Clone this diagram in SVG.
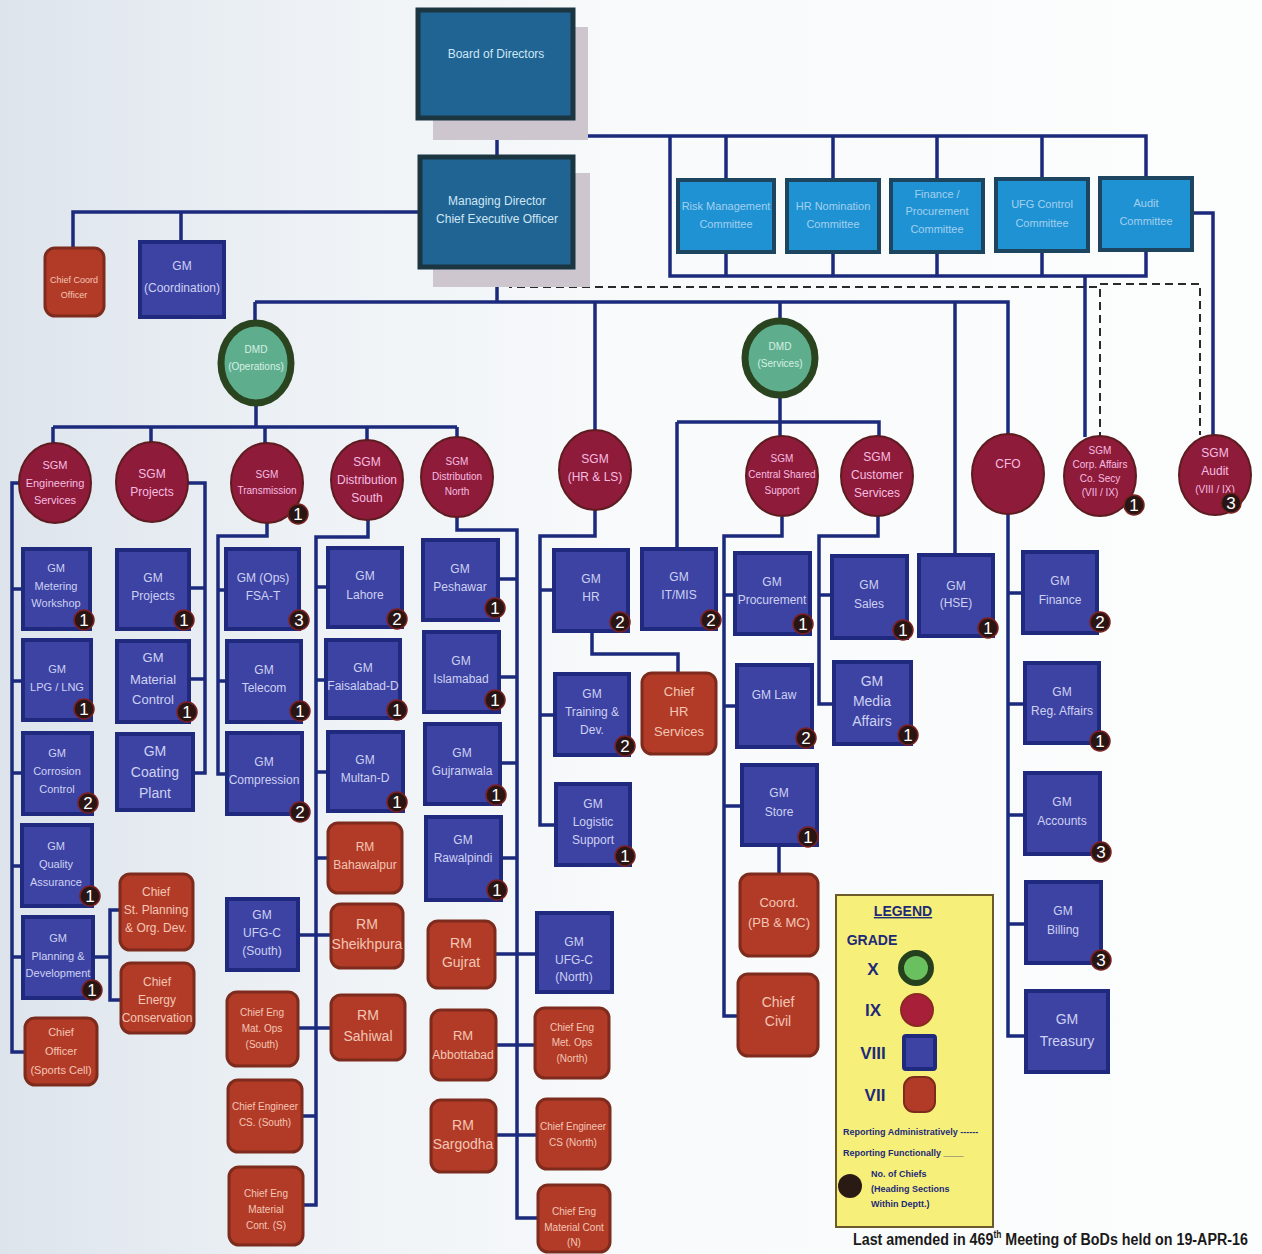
<svg xmlns="http://www.w3.org/2000/svg" width="1262" height="1254" viewBox="0 0 1262 1254">
<defs>
<linearGradient id="bg" x1="0" y1="0" x2="1" y2="0">
<stop offset="0" stop-color="#dde4ec"/><stop offset="0.25" stop-color="#eef2f6"/><stop offset="0.5" stop-color="#f8fafb"/><stop offset="1" stop-color="#fcfdfd"/>
</linearGradient>
<style>
.c{fill:none;stroke:#1b2a7c;stroke-width:3.5}
.d{fill:none;stroke:#2a2a2a;stroke-width:2;stroke-dasharray:8 5}
.top{fill:#1f6492;stroke:#1b3541;stroke-width:5}
.sh{fill:#cdc6cf}
.com{fill:#1f92d4;stroke:#1d4560;stroke-width:4}
.gm{fill:#3d43a3;stroke:#1f2a7e;stroke-width:4}
.rd{fill:#b23b28;stroke:#7d2b1c;stroke-width:3}
.sgm{fill:#8e1b3a;stroke:#5e1c20;stroke-width:2}
.dmd{fill:#5eae8e;stroke:#2b4420;stroke-width:7}
text{font-family:"Liberation Sans",Arial,sans-serif;text-anchor:middle}
.tt{fill:#cfe6f5;font-size:12px}
.ct{fill:#a3d0ee;font-size:11px}
.gt{fill:#cdd1f2;font-size:12px}
.rt{fill:#f3c6b4;font-size:12px}
.st{fill:#f7bde0;font-size:12px}
.dt{fill:#d8f0e4;font-size:10px}
.bc{fill:#2a1515;stroke:#7a2020;stroke-width:1.5}
.bt{fill:#ffffff;font-size:17px}
.lg{fill:#1e2a78;font-weight:bold}
.ft{fill:#1a1a1a;font-weight:bold;text-anchor:start}
</style>
</defs>
<rect x="0" y="0" width="1262" height="1254" fill="url(#bg)"/>

<g id="connectors">
<path class="c" d="M497,118 V157"/>
<path class="c" d="M497,136 H1146 V180"/>
<path class="c" d="M670,136 V276 H1146 V250"/>
<path class="c" d="M726,136 V180 M833,136 V180 M937,136 V180 M1042,136 V180"/>
<path class="c" d="M726,252 V276 M833,252 V276 M937,252 V276 M1042,252 V276"/>
<path class="c" d="M1192,213 H1213 V436"/>
<path class="c" d="M1085,276 V437"/>
<path class="c" d="M420,212 H73 V248 M181,212 V242"/>
<path class="c" d="M497,267 V302 M255,302 H1008 V434 M255,302 V322 M595,302 V430 M780,302 V320 M955,302 V555"/>
<path class="d" d="M510,268 V287 H1100 V436 M1100,284 H1200 V435"/>
<path class="c" d="M256,405 V427 M53,427 H457 M53,427 V443 M151,427 V442 M265,427 V445 M367,427 V440 M457,427 V437"/>
<path class="c" d="M780,397 V422 M677,422 H879 V436 M780,422 V436 M677,422 V549"/>
<path class="c" d="M20,483 H12 V1052 H25 M12,589 H23 M12,681 H23 M12,773 H23 M12,866 H22 M12,957 H23"/>
<path class="c" d="M188,483 H205 V773 H193 M189,588 H205 M189,679 H205"/>
<path class="c" d="M93,957 H110 M120,910 H110 V1000 H121"/>
<path class="c" d="M267,523 V536 H218 V774 H227 M218,590 H226 M218,681 H227"/>
<path class="c" d="M368,520 V537 H316 V1205 H303 M316,587 H328 M316,680 H326 M316,772 H328 M316,858 H328 M298,935 H331 M298,1028 H331 M316,1116 H302"/>
<path class="c" d="M457,517 V530 H517 V1218 H538 M498,579 H517 M499,677 H517 M500,763 H517 M501,858 H517 M495,954 H537 M496,1045 H535 M496,1135 H537"/>
<path class="c" d="M595,510 V536 H540 V825 H556 M540,590 H554 M540,715 H555 M592,631 V654 H678 V673"/>
<path class="c" d="M782,517 V536 H724 V1016 H738 M724,595 H735 M724,706 H737 M724,806 H742 M779,845 V874"/>
<path class="c" d="M878,516 V536 H819 V704 H834 M819,595 H832"/>
<path class="c" d="M1008,514 V1036 H1026 M1008,593 H1023 M1008,704 H1025 M1008,815 H1025 M1008,924 H1026"/>
</g>

<g id="bod"><rect class="sh" x="433" y="27" width="155" height="113"/><rect class="top" x="418" y="10" width="155" height="108"/><text class="tt" x="496" y="58">Board of Directors</text></g>
<g id="md"><rect class="sh" x="433" y="173" width="157" height="114"/><rect class="top" x="420" y="157" width="153" height="110"/><text class="tt"><tspan x="497" y="205">Managing Director</tspan><tspan x="497" y="223">Chief Executive  Officer</tspan></text></g>

<g id="com-risk"><rect class="com" x="678" y="180" width="96" height="72"/><text class="ct"><tspan x="726" y="210">Risk Management</tspan><tspan x="726" y="228">Committee</tspan></text></g>
<g id="com-hr"><rect class="com" x="787" y="180" width="92" height="72"/><text class="ct"><tspan x="833" y="210">HR  Nomination</tspan><tspan x="833" y="228">Committee</tspan></text></g>
<g id="com-fin"><rect class="com" x="891" y="180" width="92" height="72"/><text class="ct"><tspan x="937" y="198">Finance /</tspan><tspan x="937" y="215">Procurement</tspan><tspan x="937" y="233">Committee</tspan></text></g>
<g id="com-ufg"><rect class="com" x="996" y="179" width="92" height="72"/><text class="ct"><tspan x="1042" y="208">UFG Control</tspan><tspan x="1042" y="227">Committee</tspan></text></g>
<g id="com-audit"><rect class="com" x="1100" y="178" width="92" height="72"/><text class="ct"><tspan x="1146" y="207">Audit</tspan><tspan x="1146" y="225">Committee</tspan></text></g>

<g id="chief-coord"><rect class="rd" x="45" y="248" width="59" height="68" rx="10"/><text class="rt" style="font-size:9px"><tspan x="74" y="283">Chief Coord</tspan><tspan x="74" y="298">Officer</tspan></text></g>
<g id="gm-coord"><rect class="gm" x="140" y="242" width="84" height="75"/><text class="gt"><tspan x="182" y="270">GM</tspan><tspan x="182" y="292">(Coordination)</tspan></text></g>

<g id="dmd-ops"><ellipse class="dmd" cx="256" cy="363" rx="35" ry="40"/><text class="dt"><tspan x="256" y="353">DMD</tspan><tspan x="256" y="370">(Operations)</tspan></text></g>
<g id="dmd-svc"><ellipse class="dmd" cx="780" cy="358" rx="35" ry="37"/><text class="dt"><tspan x="780" y="350">DMD</tspan><tspan x="780" y="367">(Services)</tspan></text></g>

<g id="sgm-eng"><ellipse class="sgm" cx="55" cy="483" rx="36" ry="40"/><text class="st" style="font-size:11px"><tspan x="55" y="469">SGM</tspan><tspan x="55" y="487">Engineering</tspan><tspan x="55" y="504">Services</tspan></text></g>
<g id="sgm-proj"><ellipse class="sgm" cx="152" cy="482" rx="36" ry="40"/><text class="st"><tspan x="152" y="478">SGM</tspan><tspan x="152" y="496">Projects</tspan></text></g>
<g id="sgm-trans"><ellipse class="sgm" cx="267" cy="483" rx="36" ry="40"/><text class="st" style="font-size:10px"><tspan x="267" y="478">SGM</tspan><tspan x="267" y="494">Transmission</tspan></text><circle class="bc" cx="298" cy="514" r="10"/><text class="bt" x="298" y="520">1</text></g>
<g id="sgm-dsouth"><ellipse class="sgm" cx="367" cy="480" rx="36" ry="40"/><text class="st"><tspan x="367" y="466">SGM</tspan><tspan x="367" y="484">Distribution</tspan><tspan x="367" y="502">South</tspan></text></g>
<g id="sgm-dnorth"><ellipse class="sgm" cx="457" cy="477" rx="36" ry="40"/><text class="st" style="font-size:10px"><tspan x="457" y="465">SGM</tspan><tspan x="457" y="480">Distribution</tspan><tspan x="457" y="495">North</tspan></text></g>
<g id="sgm-hr"><ellipse class="sgm" cx="595" cy="470" rx="36" ry="40"/><text class="st"><tspan x="595" y="463">SGM</tspan><tspan x="595" y="481">(HR &amp; LS)</tspan></text></g>
<g id="sgm-css"><ellipse class="sgm" cx="782" cy="476" rx="36" ry="40"/><text class="st" style="font-size:10px"><tspan x="782" y="462">SGM</tspan><tspan x="782" y="478">Central Shared</tspan><tspan x="782" y="494">Support</tspan></text></g>
<g id="sgm-cs"><ellipse class="sgm" cx="877" cy="476" rx="36" ry="40"/><text class="st"><tspan x="877" y="461">SGM</tspan><tspan x="877" y="479">Customer</tspan><tspan x="877" y="497">Services</tspan></text></g>
<g id="cfo"><ellipse class="sgm" cx="1008" cy="474" rx="36" ry="40"/><text class="st" x="1008" y="468">CFO</text></g>
<g id="sgm-corp"><ellipse class="sgm" cx="1100" cy="476" rx="36" ry="40"/><text class="st" style="font-size:10px"><tspan x="1100" y="454">SGM</tspan><tspan x="1100" y="468">Corp. Affairs</tspan><tspan x="1100" y="482">Co. Secy</tspan><tspan x="1100" y="496">(VII / IX)</tspan></text><circle class="bc" cx="1134" cy="505" r="10"/><text class="bt" x="1134" y="511">1</text></g>
<g id="sgm-audit"><ellipse class="sgm" cx="1215" cy="475" rx="36" ry="40"/><text class="st"><tspan x="1215" y="457">SGM</tspan><tspan x="1215" y="475">Audit</tspan><tspan x="1215" y="493" style="font-size:10px">(VIII / IX)</tspan></text><circle class="bc" cx="1231" cy="503" r="10"/><text class="bt" x="1231" y="509">3</text></g>

<g id="gm-metering"><rect class="gm" x="23" y="549" width="67" height="80"/><text class="gt" style="font-size:11px"><tspan x="56" y="572">GM</tspan><tspan x="56" y="590">Metering</tspan><tspan x="56" y="607">Workshop</tspan></text><circle class="bc" cx="84" cy="620" r="10"/><text class="bt" x="84" y="626">1</text></g>
<g id="gm-lpg"><rect class="gm" x="23" y="640" width="68" height="80"/><text class="gt" style="font-size:11px"><tspan x="57" y="673">GM</tspan><tspan x="57" y="691">LPG / LNG</tspan></text><circle class="bc" cx="84" cy="709" r="10"/><text class="bt" x="84" y="715">1</text></g>
<g id="gm-corrosion"><rect class="gm" x="23" y="733" width="69" height="81"/><text class="gt" style="font-size:11px"><tspan x="57" y="757">GM</tspan><tspan x="57" y="775">Corrosion</tspan><tspan x="57" y="793">Control</tspan></text><circle class="bc" cx="88" cy="803" r="10"/><text class="bt" x="88" y="809">2</text></g>
<g id="gm-qa"><rect class="gm" x="22" y="825" width="70" height="81"/><text class="gt" style="font-size:11px"><tspan x="56" y="850">GM</tspan><tspan x="56" y="868">Quality</tspan><tspan x="56" y="886">Assurance</tspan></text><circle class="bc" cx="90" cy="896" r="10"/><text class="bt" x="90" y="902">1</text></g>
<g id="gm-planning"><rect class="gm" x="23" y="917" width="70" height="81"/><text class="gt" style="font-size:11px"><tspan x="58" y="942">GM</tspan><tspan x="58" y="960">Planning &amp;</tspan><tspan x="58" y="977">Development</tspan></text><circle class="bc" cx="92" cy="990" r="10"/><text class="bt" x="92" y="996">1</text></g>
<g id="chief-sports"><rect class="rd" x="25" y="1018" width="72" height="67" rx="10"/><text class="rt" style="font-size:11px"><tspan x="61" y="1036">Chief</tspan><tspan x="61" y="1055">Officer</tspan><tspan x="61" y="1074">(Sports Cell)</tspan></text></g>
<g id="chief-stplan"><rect class="rd" x="120" y="874" width="73" height="76" rx="10"/><text class="rt"><tspan x="156" y="896">Chief</tspan><tspan x="156" y="914">St. Planning</tspan><tspan x="156" y="932">&amp; Org. Dev.</tspan></text></g>
<g id="chief-energy"><rect class="rd" x="121" y="963" width="73" height="70" rx="10"/><text class="rt"><tspan x="157" y="986">Chief</tspan><tspan x="157" y="1004">Energy</tspan><tspan x="157" y="1022">Conservation</tspan></text></g>

<g id="gm-projects"><rect class="gm" x="117" y="550" width="72" height="79"/><text class="gt"><tspan x="153" y="582">GM</tspan><tspan x="153" y="600">Projects</tspan></text><circle class="bc" cx="184" cy="620" r="10"/><text class="bt" x="184" y="626">1</text></g>
<g id="gm-material"><rect class="gm" x="117" y="641" width="72" height="81"/><text class="gt" style="font-size:13px"><tspan x="153" y="662">GM</tspan><tspan x="153" y="684">Material</tspan><tspan x="153" y="704">Control</tspan></text><circle class="bc" cx="187" cy="712" r="10"/><text class="bt" x="187" y="718">1</text></g>
<g id="gm-coating"><rect class="gm" x="117" y="734" width="76" height="76"/><text class="gt" style="font-size:14px"><tspan x="155" y="756">GM</tspan><tspan x="155" y="777">Coating</tspan><tspan x="155" y="798">Plant</tspan></text></g>

<g id="gm-fsat"><rect class="gm" x="226" y="549" width="73" height="80"/><text class="gt"><tspan x="263" y="582">GM (Ops)</tspan><tspan x="263" y="600">FSA-T</tspan></text><circle class="bc" cx="299" cy="620" r="10"/><text class="bt" x="299" y="626">3</text></g>
<g id="gm-telecom"><rect class="gm" x="227" y="641" width="74" height="81"/><text class="gt"><tspan x="264" y="674">GM</tspan><tspan x="264" y="692">Telecom</tspan></text><circle class="bc" cx="300" cy="711" r="10"/><text class="bt" x="300" y="717">1</text></g>
<g id="gm-compression"><rect class="gm" x="227" y="733" width="75" height="81"/><text class="gt"><tspan x="264" y="766">GM</tspan><tspan x="264" y="784">Compression</tspan></text><circle class="bc" cx="300" cy="812" r="10"/><text class="bt" x="300" y="818">2</text></g>
<g id="gm-ufg-south"><rect class="gm" x="227" y="899" width="71" height="71"/><text class="gt"><tspan x="262" y="919">GM</tspan><tspan x="262" y="937">UFG-C</tspan><tspan x="262" y="955">(South)</tspan></text></g>
<g id="chief-metops-south"><rect class="rd" x="227" y="992" width="71" height="74" rx="10"/><text class="rt" style="font-size:10px"><tspan x="262" y="1016">Chief Eng</tspan><tspan x="262" y="1032">Mat. Ops</tspan><tspan x="262" y="1048">(South)</tspan></text></g>
<g id="chief-cs-south"><rect class="rd" x="228" y="1080" width="74" height="72" rx="10"/><text class="rt" style="font-size:10px"><tspan x="265" y="1110">Chief Engineer</tspan><tspan x="265" y="1126">CS. (South)</tspan></text></g>
<g id="chief-matcont-s"><rect class="rd" x="229" y="1167" width="74" height="78" rx="10"/><text class="rt" style="font-size:10px"><tspan x="266" y="1197">Chief Eng</tspan><tspan x="266" y="1213">Material</tspan><tspan x="266" y="1229">Cont. (S)</tspan></text></g>

<g id="gm-lahore"><rect class="gm" x="328" y="548" width="74" height="79"/><text class="gt"><tspan x="365" y="580">GM</tspan><tspan x="365" y="599">Lahore</tspan></text><circle class="bc" cx="397" cy="619" r="10"/><text class="bt" x="397" y="625">2</text></g>
<g id="gm-faisalabad"><rect class="gm" x="326" y="640" width="74" height="78"/><text class="gt"><tspan x="363" y="672">GM</tspan><tspan x="363" y="690">Faisalabad-D</tspan></text><circle class="bc" cx="397" cy="710" r="10"/><text class="bt" x="397" y="716">1</text></g>
<g id="gm-multan"><rect class="gm" x="328" y="732" width="75" height="79"/><text class="gt"><tspan x="365" y="764">GM</tspan><tspan x="365" y="782">Multan-D</tspan></text><circle class="bc" cx="397" cy="802" r="10"/><text class="bt" x="397" y="808">1</text></g>
<g id="rm-bahawalpur"><rect class="rd" x="328" y="823" width="74" height="70" rx="10"/><text class="rt"><tspan x="365" y="851">RM</tspan><tspan x="365" y="869">Bahawalpur</tspan></text></g>
<g id="rm-sheikhpura"><rect class="rd" x="331" y="904" width="72" height="64" rx="10"/><text class="rt" style="font-size:14px"><tspan x="367" y="929">RM</tspan><tspan x="367" y="949">Sheikhpura</tspan></text></g>
<g id="rm-sahiwal"><rect class="rd" x="331" y="995" width="74" height="65" rx="10"/><text class="rt" style="font-size:14px"><tspan x="368" y="1020">RM</tspan><tspan x="368" y="1041">Sahiwal</tspan></text></g>

<g id="gm-peshawar"><rect class="gm" x="423" y="540" width="75" height="80"/><text class="gt"><tspan x="460" y="573">GM</tspan><tspan x="460" y="591">Peshawar</tspan></text><circle class="bc" cx="495" cy="608" r="10"/><text class="bt" x="495" y="614">1</text></g>
<g id="gm-islamabad"><rect class="gm" x="424" y="632" width="75" height="80"/><text class="gt"><tspan x="461" y="665">GM</tspan><tspan x="461" y="683">Islamabad</tspan></text><circle class="bc" cx="495" cy="700" r="10"/><text class="bt" x="495" y="706">1</text></g>
<g id="gm-gujranwala"><rect class="gm" x="425" y="724" width="75" height="80"/><text class="gt"><tspan x="462" y="757">GM</tspan><tspan x="462" y="775">Gujranwala</tspan></text><circle class="bc" cx="496" cy="795" r="10"/><text class="bt" x="496" y="801">1</text></g>
<g id="gm-rawalpindi"><rect class="gm" x="426" y="817" width="75" height="83"/><text class="gt"><tspan x="463" y="844">GM</tspan><tspan x="463" y="862">Rawalpindi</tspan></text><circle class="bc" cx="497" cy="890" r="10"/><text class="bt" x="497" y="896">1</text></g>
<g id="rm-gujrat"><rect class="rd" x="428" y="921" width="67" height="67" rx="10"/><text class="rt" style="font-size:14px"><tspan x="461" y="948">RM</tspan><tspan x="461" y="967">Gujrat</tspan></text></g>
<g id="gm-ufg-north"><rect class="gm" x="537" y="913" width="75" height="79"/><text class="gt"><tspan x="574" y="946">GM</tspan><tspan x="574" y="964">UFG-C</tspan><tspan x="574" y="981">(North)</tspan></text></g>
<g id="rm-abbottabad"><rect class="rd" x="431" y="1010" width="65" height="70" rx="10"/><text class="rt" style="font-size:13px"><tspan x="463" y="1040">RM</tspan><tspan x="463" y="1059" style="font-size:12px">Abbottabad</tspan></text></g>
<g id="chief-metops-north"><rect class="rd" x="535" y="1008" width="74" height="70" rx="10"/><text class="rt" style="font-size:10px"><tspan x="572" y="1031">Chief Eng</tspan><tspan x="572" y="1046">Met. Ops</tspan><tspan x="572" y="1062">(North)</tspan></text></g>
<g id="rm-sargodha"><rect class="rd" x="431" y="1100" width="65" height="72" rx="10"/><text class="rt" style="font-size:14px"><tspan x="463" y="1130">RM</tspan><tspan x="463" y="1149">Sargodha</tspan></text></g>
<g id="chief-cs-north"><rect class="rd" x="537" y="1099" width="73" height="70" rx="10"/><text class="rt" style="font-size:10px"><tspan x="573" y="1130">Chief Engineer</tspan><tspan x="573" y="1146">CS (North)</tspan></text></g>
<g id="chief-matcont-n"><rect class="rd" x="538" y="1185" width="72" height="67" rx="10"/><text class="rt" style="font-size:10px"><tspan x="574" y="1215">Chief Eng</tspan><tspan x="574" y="1231">Material Cont</tspan><tspan x="574" y="1246">(N)</tspan></text></g>

<g id="gm-hr"><rect class="gm" x="554" y="550" width="74" height="81"/><text class="gt"><tspan x="591" y="583">GM</tspan><tspan x="591" y="601">HR</tspan></text><circle class="bc" cx="620" cy="622" r="10"/><text class="bt" x="620" y="628">2</text></g>
<g id="gm-training"><rect class="gm" x="555" y="674" width="74" height="81"/><text class="gt"><tspan x="592" y="698">GM</tspan><tspan x="592" y="716">Training &amp;</tspan><tspan x="592" y="734">Dev.</tspan></text><circle class="bc" cx="625" cy="746" r="10"/><text class="bt" x="625" y="752">2</text></g>
<g id="gm-logistic"><rect class="gm" x="556" y="784" width="74" height="81"/><text class="gt"><tspan x="593" y="808">GM</tspan><tspan x="593" y="826">Logistic</tspan><tspan x="593" y="844">Support</tspan></text><circle class="bc" cx="625" cy="856" r="10"/><text class="bt" x="625" y="862">1</text></g>
<g id="chief-hr"><rect class="rd" x="642" y="673" width="74" height="81" rx="10"/><text class="rt" style="font-size:13px"><tspan x="679" y="696">Chief</tspan><tspan x="679" y="716">HR</tspan><tspan x="679" y="736">Services</tspan></text></g>
<g id="gm-itmis"><rect class="gm" x="642" y="549" width="74" height="80"/><text class="gt"><tspan x="679" y="581">GM</tspan><tspan x="679" y="599">IT/MIS</tspan></text><circle class="bc" cx="711" cy="620" r="10"/><text class="bt" x="711" y="626">2</text></g>

<g id="gm-procurement"><rect class="gm" x="735" y="553" width="75" height="81"/><text class="gt"><tspan x="772" y="586">GM</tspan><tspan x="772" y="604">Procurement</tspan></text><circle class="bc" cx="803" cy="624" r="10"/><text class="bt" x="803" y="630">1</text></g>
<g id="gm-law"><rect class="gm" x="737" y="665" width="75" height="82"/><text class="gt" x="774" y="699">GM Law</text><circle class="bc" cx="806" cy="738" r="10"/><text class="bt" x="806" y="744">2</text></g>
<g id="gm-store"><rect class="gm" x="742" y="765" width="75" height="80"/><text class="gt"><tspan x="779" y="797">GM</tspan><tspan x="779" y="816">Store</tspan></text><circle class="bc" cx="808" cy="837" r="10"/><text class="bt" x="808" y="843">1</text></g>
<g id="coord-pbmc"><rect class="rd" x="740" y="874" width="78" height="82" rx="10"/><text class="rt" style="font-size:13px"><tspan x="779" y="907">Coord.</tspan><tspan x="779" y="927">(PB &amp; MC)</tspan></text></g>
<g id="chief-civil"><rect class="rd" x="738" y="974" width="80" height="82" rx="10"/><text class="rt" style="font-size:14px"><tspan x="778" y="1007">Chief</tspan><tspan x="778" y="1026">Civil</tspan></text></g>

<g id="gm-sales"><rect class="gm" x="832" y="556" width="75" height="82"/><text class="gt"><tspan x="869" y="589">GM</tspan><tspan x="869" y="608">Sales</tspan></text><circle class="bc" cx="903" cy="630" r="10"/><text class="bt" x="903" y="636">1</text></g>
<g id="gm-media"><rect class="gm" x="834" y="662" width="77" height="82"/><text class="gt" style="font-size:14px"><tspan x="872" y="686">GM</tspan><tspan x="872" y="706">Media</tspan><tspan x="872" y="726">Affairs</tspan></text><circle class="bc" cx="908" cy="735" r="10"/><text class="bt" x="908" y="741">1</text></g>
<g id="gm-hse"><rect class="gm" x="919" y="555" width="74" height="81"/><text class="gt"><tspan x="956" y="590">GM</tspan><tspan x="956" y="607">(HSE)</tspan></text><circle class="bc" cx="988" cy="628" r="10"/><text class="bt" x="988" y="634">1</text></g>

<g id="gm-finance"><rect class="gm" x="1023" y="552" width="74" height="81"/><text class="gt"><tspan x="1060" y="585">GM</tspan><tspan x="1060" y="604">Finance</tspan></text><circle class="bc" cx="1100" cy="622" r="10"/><text class="bt" x="1100" y="628">2</text></g>
<g id="gm-reg"><rect class="gm" x="1025" y="663" width="74" height="80"/><text class="gt"><tspan x="1062" y="696">GM</tspan><tspan x="1062" y="715">Reg. Affairs</tspan></text><circle class="bc" cx="1100" cy="741" r="10"/><text class="bt" x="1100" y="747">1</text></g>
<g id="gm-accounts"><rect class="gm" x="1025" y="773" width="75" height="81"/><text class="gt"><tspan x="1062" y="806">GM</tspan><tspan x="1062" y="825">Accounts</tspan></text><circle class="bc" cx="1101" cy="852" r="10"/><text class="bt" x="1101" y="858">3</text></g>
<g id="gm-billing"><rect class="gm" x="1026" y="882" width="75" height="81"/><text class="gt"><tspan x="1063" y="915">GM</tspan><tspan x="1063" y="934">Billing</tspan></text><circle class="bc" cx="1101" cy="960" r="10"/><text class="bt" x="1101" y="966">3</text></g>
<g id="gm-treasury"><rect class="gm" x="1026" y="991" width="82" height="81"/><text class="gt" style="font-size:14px"><tspan x="1067" y="1024">GM</tspan><tspan x="1067" y="1046">Treasury</tspan></text></g>

<g id="legend">
<rect x="836" y="895" width="157" height="332" fill="#f6f07a" stroke="#6b5a2a" stroke-width="2"/>
<text class="lg" x="903" y="916" style="font-size:14px;text-decoration:underline">LEGEND</text>
<text class="lg" x="872" y="945" style="font-size:14px">GRADE</text>
<text class="lg" x="873" y="975" style="font-size:17px">X</text>
<circle cx="916" cy="968" r="15" fill="#6abf5e" stroke="#24401c" stroke-width="6"/>
<text class="lg" x="873" y="1016" style="font-size:17px">IX</text>
<circle cx="917" cy="1010" r="16" fill="#a81f3a" stroke="#8a2a22" stroke-width="2"/>
<text class="lg" x="873" y="1059" style="font-size:17px">VIII</text>
<rect x="904" y="1036" width="31" height="33" rx="2" fill="#3d43a3" stroke="#1f2a7e" stroke-width="4"/>
<text class="lg" x="875" y="1101" style="font-size:17px">VII</text>
<rect x="904" y="1077" width="31" height="35" rx="10" fill="#b23b28" stroke="#7d2b1c" stroke-width="2"/>
<text class="lg" x="843" y="1135" style="font-size:9px;text-anchor:start">Reporting Administratively ------</text>
<text class="lg" x="843" y="1156" style="font-size:9px;text-anchor:start">Reporting Functionally ____</text>
<circle cx="850" cy="1186" r="12" fill="#2a1a14"/>
<text class="lg" x="871" y="1177" style="font-size:9px;text-anchor:start">No. of Chiefs</text>
<text class="lg" x="871" y="1192" style="font-size:9px;text-anchor:start">(Heading Sections</text>
<text class="lg" x="871" y="1207" style="font-size:9px;text-anchor:start">Within Deptt.)</text>
</g>
<g id="footer">
<text class="ft" transform="translate(853,1245) scale(0.84,1)" x="0" y="0" style="font-size:17px">Last amended in 469<tspan dy="-7" style="font-size:10px">th</tspan><tspan dy="7"> Meeting of BoDs held on 19-APR-16</tspan></text>
</g>
</svg>
